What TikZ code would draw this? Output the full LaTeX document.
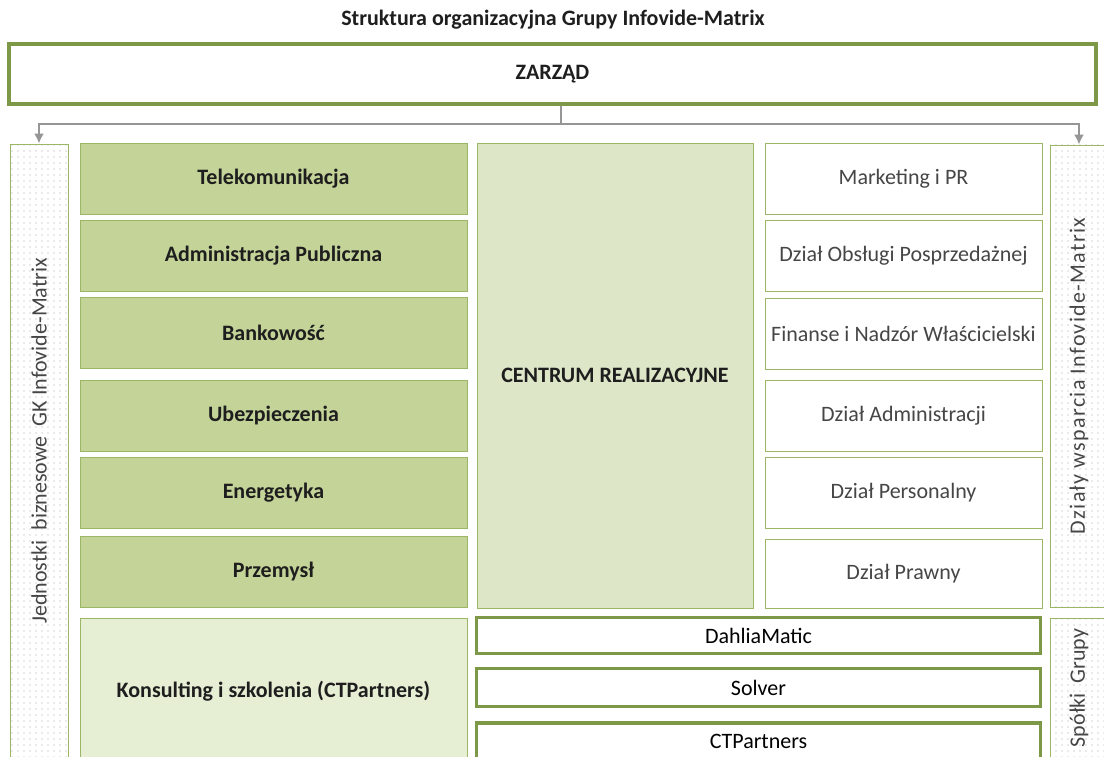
\documentclass[tikz,border=0pt]{standalone}
\usepackage{fontspec}
\setmainfont{Carlito}
\newfontfamily\spacedfont[LetterSpace=6]{Carlito}
\usetikzlibrary{shapes,arrows,arrows.meta,patterns.meta}
\definecolor{olivedark}{RGB}{125,152,70}
\definecolor{olivethin}{RGB}{155,182,100}
\definecolor{unitfill}{RGB}{196,212,152}
\definecolor{centrefill}{RGB}{222,230,200}
\definecolor{consfill}{RGB}{230,238,212}
\definecolor{linegray}{RGB}{150,150,150}
\definecolor{textdark}{RGB}{30,30,30}
\definecolor{textgray}{RGB}{70,70,70}
\tikzstyle{unit} = [rectangle, draw=olivethin, line width=0.8pt, fill=unitfill,
  minimum width=387pt, minimum height=71pt, inner sep=0pt,
  font=\fontsize{22}{26}\selectfont\bfseries, text=textdark]
\tikzstyle{support} = [rectangle, draw=olivethin, line width=0.8pt, fill=white,
  minimum width=277pt, minimum height=71pt, inner sep=0pt,
  font=\fontsize{22}{26}\selectfont, text=textgray]
\tikzstyle{company} = [rectangle, draw=olivedark, line width=3.5pt, fill=white,
  minimum width=564pt, minimum height=36pt, inner sep=0pt,
  font=\fontsize{22}{26}\selectfont, text=black]
\tikzstyle{side} = [rectangle, draw=olivethin, line width=0.8pt,
  preaction={fill=white}, pattern={Dots[distance=6pt, radius=0.7pt]},
  pattern color=gray!70, minimum width=58pt, inner sep=0pt]
\tikzstyle{sidetext} = [font=\fontsize{22}{26}\selectfont, text=textgray, inner sep=0pt]
\tikzstyle{line} = [draw=linegray, line width=2pt, -{Latex[length=10pt, width=10pt]}]

\begin{document}
\begin{tikzpicture}[x=1pt, y=-1pt]
  \clip (0,0) rectangle (1104,757);

  \node [font=\fontsize{22}{26}\selectfont\bfseries, text=textdark] (title) at (553,20)
    {Struktura organizacyjna Grupy Infovide-Matrix};
  \node [rectangle, draw=olivedark, line width=3.5pt, minimum width=1087pt, minimum height=60pt,
    font=\fontsize{22}{26}\selectfont\bfseries, text=textdark] (zarzad) at (552.5,74) {ZARZĄD};

  % jednostki biznesowe
  \node [side, minimum height=626pt] (jedn) at (39,457) {};
  \node [sidetext] (jednlabel) at (39,441) {\rotatebox{90}{Jednostki~ biznesowe~ GK Infovide-Matrix}};
  \node [unit] (telekom) at (273.5,178.5) {Telekomunikacja};
  \node [unit] (admin) at (273.5,255.5) {Administracja Publiczna};
  \node [unit] (bank) at (273.5,333) {Bankowość};
  \node [unit] (ubezp) at (273.5,415.5) {Ubezpieczenia};
  \node [unit] (energ) at (273.5,493) {Energetyka};
  \node [unit] (przem) at (273.5,572) {Przemysł};
  \node [unit, fill=consfill, minimum height=146pt] (konsult) at (273.5,691)
    {Konsulting i szkolenia (CTPartners)};

  \node [unit, fill=centrefill, minimum width=276pt, minimum height=465pt] (centrum) at (615,375.5)
    {CENTRUM REALIZACYJNE};

  % dzialy wsparcia
  \node [support] (marketing) at (903.5,178.5) {Marketing i PR};
  \node [support] (obsluga) at (903.5,255.5) {Dział Obsługi Posprzedażnej};
  \node [support] (finanse) at (903.5,333.5) {Finanse i Nadzór Właścicielski};
  \node [support] (administracja) at (903.5,415.5) {Dział Administracji};
  \node [support] (personalny) at (903.5,493) {Dział Personalny};
  \node [support, minimum height=69pt] (prawny) at (903.5,573.5) {Dział Prawny};
  \node [side, minimum height=462pt, font=\fontsize{22}{26}\spacedfont, text=textgray] (dzialy) at (1079,376)
    {\rotatebox{90}{Działy wsparcia Infovide-Matrix}};

  % spolki grupy
  \node [company] (dahlia) at (758.5,635.5) {DahliaMatic};
  \node [company, minimum height=38pt] (solver) at (758.5,687.5) {Solver};
  \node [company] (ctp) at (758.5,741) {CTPartners};
  \node [side, minimum height=140pt, font=\fontsize{22}{26}\selectfont, text=textgray] (spolki) at (1079,688)
    {\rotatebox{90}{Spółki~ Grupy}};

  \coordinate (split) at (561,124);
  \path [draw=linegray, line width=2pt] (zarzad.south -| split) -- (split);
  \path [line] (split) -| (jedn.north);
  \path [line] (split) -| (dzialy.north);

\end{tikzpicture}
\end{document}
